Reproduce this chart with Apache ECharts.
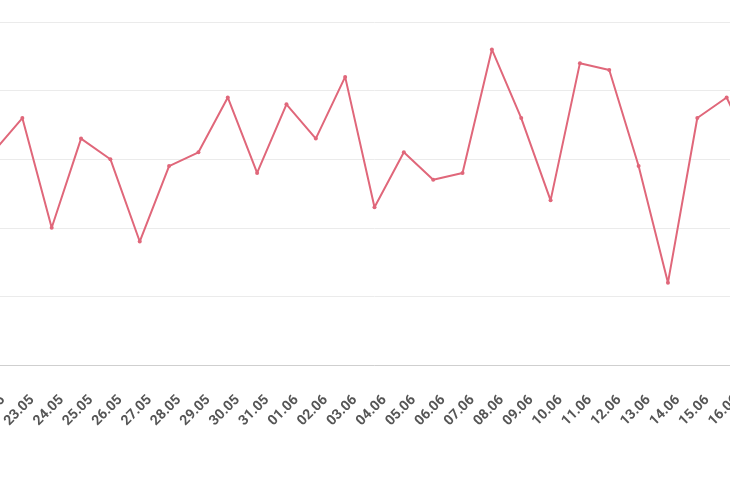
<!DOCTYPE html>
<html>
<head>
<meta charset="utf-8">
<script src="https://cdn.jsdelivr.net/npm/echarts@6/dist/echarts.min.js"></script>
<style>
html,body{margin:0;padding:0;width:730px;height:500px;overflow:hidden;background:#fff;}
#chart{position:absolute;left:-37px;top:0;width:800px;height:500px;}
</style>
</head>
<body>
<div id="chart"></div>
<script>
const categories = ['22.05','23.05','24.05','25.05','26.05','27.05','28.05','29.05','30.05','31.05',
  '01.06','02.06','03.06','04.06','05.06','06.06','07.06','08.06','09.06','10.06',
  '11.06','12.06','13.06','14.06','15.06','16.06','17.06'];
const values = [31,36,20,33,30,18,29,31,39,28,
  38,33,42,23,31,27,28,46,36,24,
  44,43,29,12,36,39,30];
const yMin = 0, yMax = 50, yStep = 10;

const chart = echarts.init(document.getElementById('chart'));
chart.setOption({
  animation: false,
  grid: {left: 30, right: 7, top: 22, bottom: 135, containLabel: false, outerBoundsMode: 'none'},
  xAxis: {
    type: 'category',
    data: categories,
    boundaryGap: false,
    axisTick: {show: false},
    axisLine: {lineStyle: {color: '#cfcfcf', width: 1}},
    axisLabel: {
      rotate: 45, interval: 0, margin: 23, verticalAlign: 'top', padding: [7, 0, 0, 0],
      color: '#555', fontSize: 14, fontWeight: 'bold',
      fontFamily: 'Roboto, sans-serif'
    }
  },
  yAxis: {
    type: 'value', min: yMin, max: yMax, interval: yStep,
    axisLabel: {show: false},
    axisLine: {show: false},
    axisTick: {show: false},
    splitLine: {lineStyle: {color: '#ebebeb', width: 1}}
  },
  series: [{
    type: 'line',
    data: values,
    symbol: 'circle',
    symbolSize: 4,
    lineStyle: {color: '#e0677a', width: 2},
    itemStyle: {color: '#e0677a'}
  }]
});
</script>
</body>
</html>
